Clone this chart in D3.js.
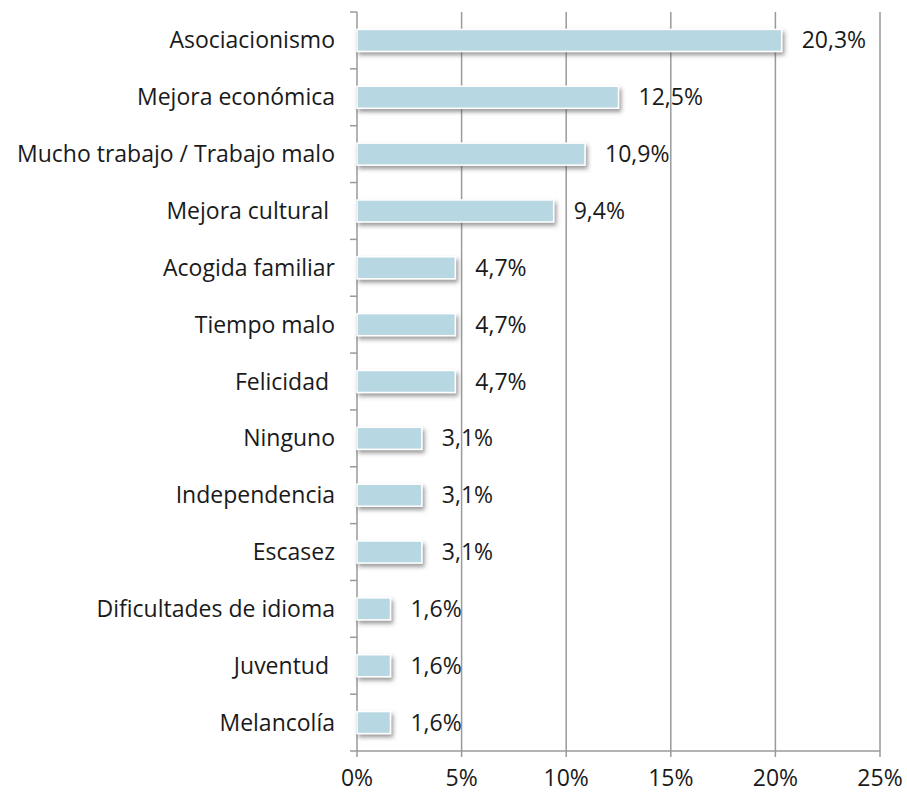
<!DOCTYPE html>
<html>
<head>
<meta charset="utf-8">
<script src="https://cdn.jsdelivr.net/npm/d3@7"></script>
<style>
  body { margin: 0; background: #fff; }
  text { font-family: "Open Sans", "Noto Sans", sans-serif; fill: #1a1a1a; }
</style>
</head>
<body>
<div id="chart"></div>
<script>
const categories = [
  'Asociacionismo', 'Mejora económica', 'Mucho trabajo / Trabajo malo',
  'Mejora cultural ', 'Acogida familiar', 'Tiempo malo', 'Felicidad ',
  'Ninguno', 'Independencia', 'Escasez', 'Dificultades de idioma',
  'Juventud ', 'Melancolía'
];
const values = [20.3, 12.5, 10.9, 9.4, 4.7, 4.7, 4.7, 3.1, 3.1, 3.1, 1.6, 1.6, 1.6];
const xTicks = [0, 5, 10, 15, 20, 25];

const width = 907, height = 796;
const margin = { top: 12, right: 27, bottom: 45, left: 357 };
const innerW = width - margin.left - margin.right;
const innerH = height - margin.top - margin.bottom;
const fontSize = '23px';

const svg = d3.select('#chart').append('svg')
  .attr('width', width)
  .attr('height', height);

const defs = svg.append('defs');
const shadow = defs.append('filter').attr('id', 'shadow')
  .attr('x', '-10%').attr('y', '-30%').attr('width', '130%').attr('height', '180%');
shadow.append('feDropShadow')
  .attr('dx', 2).attr('dy', 3).attr('stdDeviation', 2)
  .attr('flood-color', '#555').attr('flood-opacity', 0.6);

const g = svg.append('g').attr('transform', `translate(${margin.left},${margin.top})`);

const x = d3.scaleLinear().domain([0, 25]).range([0, innerW]);
const y = d3.scaleBand().domain(categories).range([0, innerH]).paddingInner(0).paddingOuter(0);

// vertical gridlines
g.selectAll('.grid')
  .data(xTicks.slice(1))
  .enter()
  .append('line')
  .attr('x1', d => x(d)).attr('x2', d => x(d))
  .attr('y1', 0).attr('y2', innerH)
  .attr('stroke', '#9a9a9a')
  .attr('stroke-width', 1.5);

// bottom axis line and ticks
g.append('line')
  .attr('x1', 0).attr('x2', innerW)
  .attr('y1', innerH).attr('y2', innerH)
  .attr('stroke', '#9a9a9a').attr('stroke-width', 1.5);

g.selectAll('.xtick')
  .data(xTicks)
  .enter()
  .append('line')
  .attr('x1', d => x(d)).attr('x2', d => x(d))
  .attr('y1', innerH).attr('y2', innerH + 6)
  .attr('stroke', '#9a9a9a').attr('stroke-width', 1.5);

g.selectAll('.xlabel')
  .data(xTicks)
  .enter()
  .append('text')
  .attr('x', d => x(d))
  .attr('y', innerH + 27)
  .attr('dy', '0.35em')
  .attr('text-anchor', 'middle')
  .attr('font-size', fontSize)
  .text(d => d + '%');

// left axis line with ticks at band boundaries
g.append('line')
  .attr('x1', 0).attr('x2', 0)
  .attr('y1', 0).attr('y2', innerH)
  .attr('stroke', '#9a9a9a').attr('stroke-width', 1.5);

const boundaries = categories.map(c => y(c)).concat([innerH]);
g.selectAll('.ytick')
  .data(boundaries)
  .enter()
  .append('line')
  .attr('x1', -7).attr('x2', 0)
  .attr('y1', d => d).attr('y2', d => d)
  .attr('stroke', '#9a9a9a').attr('stroke-width', 1.5);

// bars
const barH = 22;
g.selectAll('.bar')
  .data(values)
  .enter()
  .append('rect')
  .attr('x', 0)
  .attr('y', (d, i) => y(categories[i]) + y.bandwidth() / 2 - barH / 2)
  .attr('width', d => x(d))
  .attr('height', barH)
  .attr('fill', '#b7d7e2')
  .attr('stroke', '#ffffff')
  .attr('stroke-width', 1.5)
  .attr('filter', 'url(#shadow)');

// value labels
g.selectAll('.value')
  .data(values)
  .enter()
  .append('text')
  .attr('x', d => x(d) + 20)
  .attr('y', (d, i) => y(categories[i]) + y.bandwidth() / 2)
  .attr('dy', '0.35em')
  .attr('font-size', fontSize)
  .text(d => d.toFixed(1).replace('.', ',') + '%');

// category labels
g.selectAll('.cat')
  .data(categories)
  .enter()
  .append('text')
  .attr('x', -22)
  .attr('y', d => y(d) + y.bandwidth() / 2)
  .attr('dy', '0.35em')
  .attr('text-anchor', 'end')
  .attr('font-size', fontSize)
  .style('white-space', 'pre')
  .text(d => d);
</script>
</body>
</html>
